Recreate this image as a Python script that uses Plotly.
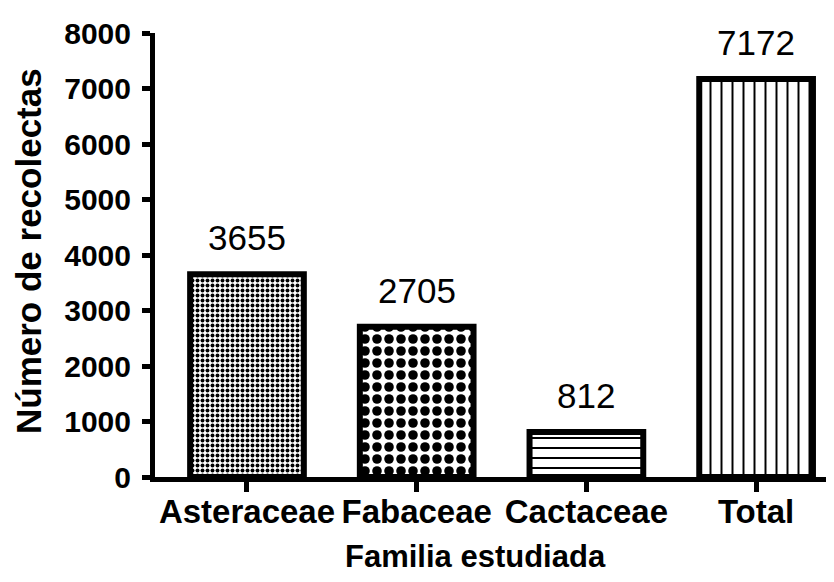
import plotly.graph_objects as go

categories = ["Asteraceae", "Fabaceae", "Cactaceae", "Total"]
values = [3655, 2705, 812, 7172]
value_labels = ["3655", "2705", "812", "7172"]
y_ticks = [0, 1000, 2000, 3000, 4000, 5000, 6000, 7000, 8000]
y_tick_labels = ["0", "1000", "2000", "3000", "4000", "5000", "6000", "7000", "8000"]

pattern_shapes = [".", ".", "-", "|"]
pattern_sizes = [5, 12, 10, 11]
pattern_solidity = [0.5, 0.5, 0.2, 0.18]

FONT = "Arial, Liberation Sans, sans-serif"

fig = go.Figure()
fig.add_trace(go.Bar(
    x=categories,
    y=values,
    width=0.67,
    marker=dict(
        color="white",
        line=dict(color="black", width=6),
        pattern=dict(
            shape=pattern_shapes,
            size=pattern_sizes,
            solidity=pattern_solidity,
            fgcolor="black",
            bgcolor="white",
            fillmode="replace",
        ),
    ),
    showlegend=False,
))

annotations = [
    dict(x=c, y=v, xref="x", yref="y", text=t, showarrow=False,
         xanchor="center", yanchor="bottom", yshift=15,
         font=dict(family=FONT, size=35, color="black"))
    for c, v, t in zip(categories, values, value_labels)
]

L, R, T, B = 147, 8, 23, 113
PW = 834 - L - R
PH = 582 - T - B

annotations += [
    dict(text="<b>Familia estudiada</b>", xref="paper", yref="paper",
         x=(467 - L) / PW, y=-(549 - (582 - B)) / PH,
         showarrow=False, font=dict(family=FONT, size=31, color="black"),
         xanchor="center", yanchor="middle"),
    dict(text="<b>Número de recolectas</b>", xref="paper", yref="paper",
         x=(20 - L) / PW, y=((582 - B) - 242) / PH,
         textangle=-90, showarrow=False,
         font=dict(family=FONT, size=35, color="black"),
         xanchor="center", yanchor="middle"),
]

fig.update_layout(
    width=834,
    height=582,
    margin=dict(l=L, r=R, t=T, b=B),
    plot_bgcolor="white",
    paper_bgcolor="white",
    font=dict(family=FONT, color="black"),
    xaxis=dict(
        range=[-0.542, 3.459],
        showline=True,
        linecolor="black",
        linewidth=5,
        ticks="outside",
        ticklen=10,
        tickwidth=5,
        tickcolor="black",
        tickfont=dict(family=FONT, size=33, color="black", weight="bold"),
        ticklabelstandoff=-9,
        showgrid=False,
        zeroline=False,
    ),
    yaxis=dict(
        range=[0, 8000],
        tickvals=y_ticks,
        ticktext=y_tick_labels,
        showline=True,
        linecolor="black",
        linewidth=5,
        ticks="outside",
        ticklen=8,
        tickwidth=5,
        tickcolor="black",
        tickfont=dict(family=FONT, size=30, color="black", weight="bold"),
        ticklabelstandoff=5,
        showgrid=False,
        zeroline=False,
    ),
    annotations=annotations,
)

fig.write_html("out.html")
